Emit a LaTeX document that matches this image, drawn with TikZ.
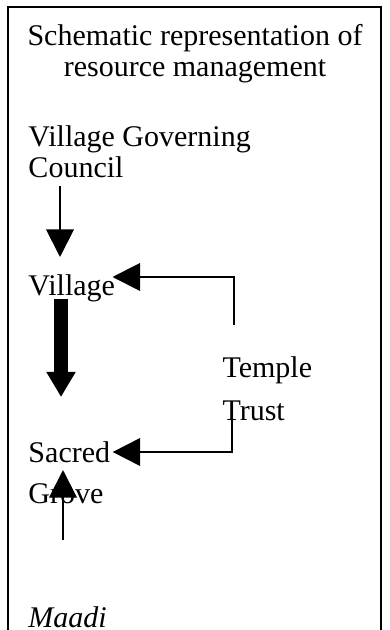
\documentclass[tikz,border=0pt]{standalone}
\usepackage{fontspec}
\setmainfont{Liberation Serif}
\usepackage{tikz}
\usetikzlibrary{arrows.meta,calc}

\begin{document}
\begin{tikzpicture}[x=0.4pt,y=-0.4pt,
	txt/.style={anchor=base west,inner sep=0pt,align=left},
	flow/.style={-{Triangle[length=11pt,width=11pt]},line width=0.8pt},
	bigflow/.style={-{Triangle[length=10pt,width=11pt]},line width=5.4pt}]
	\useasboundingbox (0,0) rectangle (390,630);
	\clip (0,0) rectangle (390,630);
	\draw[line width=0.8pt] (8,7) rectangle (381,680);

	\node[inner sep=0pt,anchor=base,align=center,font=\fontsize{12}{12.4}\selectfont] (title) at (195,77) {Schematic representation of\\resource management};
	\node[txt,font=\fontsize{12}{12.4}\selectfont] (vgc) at (28,178) {Village Governing\\Council};
	\node[txt,font=\fontsize{12}{12.4}\selectfont] (village) at (28,296) {Village};
	\node[txt,font=\fontsize{12}{17.2}\selectfont] (trust) at (222,421) {Temple\\Trust};
	\node[txt,font=\fontsize{12}{16.4}\selectfont] (grove) at (28,503) {Sacred\\Grove};
	\node[txt,font=\fontsize{12}{12.4}\selectfont\itshape] (maadi) at (28,627) {Maadi};

	\draw[flow] ($(vgc.south west)+(32,7)$) -- ($(village.base west)+(32,-39)$);
	\draw[bigflow] ($(village.base west)+(33,3)$) -- ($(grove.base west)+(33,-106)$);
	\draw[flow] ($(trust.base west)+(12,-96)$) |- ($(village.base east)+(-3,-19)$);
	\draw[flow] ($(trust.base west)+(10,-19)$) |- ($(grove.base east)+(2,-51)$);
	\draw[flow] ($(maadi.base west)+(35,-87)$) -- ($(grove.base west)+(35,-33)$);
\end{tikzpicture}
\end{document}
